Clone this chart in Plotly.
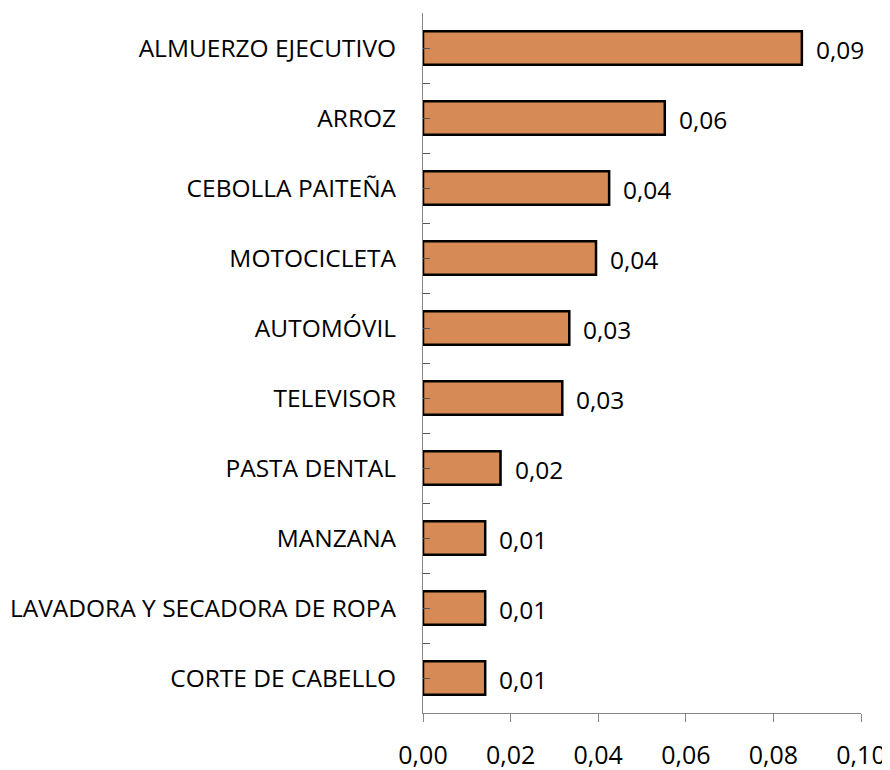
import plotly.graph_objects as go

categories = ["ALMUERZO EJECUTIVO", "ARROZ", "CEBOLLA PAITEÑA", "MOTOCICLETA", "AUTOMÓVIL",
              "TELEVISOR", "PASTA DENTAL", "MANZANA", "LAVADORA Y SECADORA DE ROPA", "CORTE DE CABELLO"]
values = [0.0865, 0.0552, 0.0425, 0.0395, 0.0334, 0.0318, 0.0177, 0.0142, 0.0142, 0.0142]
x_ticks = [0.00, 0.02, 0.04, 0.06, 0.08, 0.10]

cats_order = categories[::-1]
vals_order = values[::-1]

fig = go.Figure()
fig.add_trace(go.Bar(
    x=vals_order, y=cats_order, orientation="h",
    marker=dict(color="#D68A55", line=dict(color="#000000", width=2.5)),
    width=0.48, hoverinfo="skip",
))
# invisible trace to drive boundary ticks on secondary axis
fig.add_trace(go.Bar(
    x=vals_order, y=cats_order, orientation="h", yaxis="y2",
    marker=dict(color="rgba(0,0,0,0)", line=dict(width=0)), width=0.48,
    hoverinfo="skip", showlegend=False,
))

for c, v in zip(cats_order, vals_order):
    fig.add_annotation(x=v, y=c, text=f"{v:.2f}".replace(".", ","), showarrow=False,
                       xanchor="left", xshift=12, yshift=-1,
                       font=dict(size=24.5, color="#000000", family="Open Sans"))

# page body has an 8px default margin, so the figure is sized/offset to compensate
fig.update_layout(
    width=882, height=762,
    margin=dict(l=415, r=29, t=5, b=57),
    plot_bgcolor="white", paper_bgcolor="white",
    showlegend=False, barmode="overlay",
    separators=",.",
    font=dict(family="Open Sans", color="#000000"),
    xaxis=dict(range=[0, 0.1], tickvals=x_ticks, tickformat=".2f", showgrid=False, zeroline=False,
               showline=True, linecolor="#868686", linewidth=1, ticks="outside", ticklen=8,
               tickcolor="#868686", tickfont=dict(size=25, color="#000000"),
               ticklabelstandoff=12, automargin=False),
    yaxis=dict(type="category", categoryorder="array", categoryarray=cats_order,
               showgrid=False, zeroline=False, showline=True, linecolor="#868686", linewidth=1,
               ticks="inside", ticklen=7, tickcolor="#555555",
               tickfont=dict(size=24.5, color="#000000"), ticklabelstandoff=21, automargin=False),
    yaxis2=dict(type="category", categoryorder="array", categoryarray=cats_order,
                overlaying="y", side="left", matches="y", showgrid=False, zeroline=False,
                showline=False, ticks="inside", ticklen=7, tickcolor="#555555",
                tickson="boundaries", showticklabels=False, automargin=False),
)

fig.write_html("out.html")
